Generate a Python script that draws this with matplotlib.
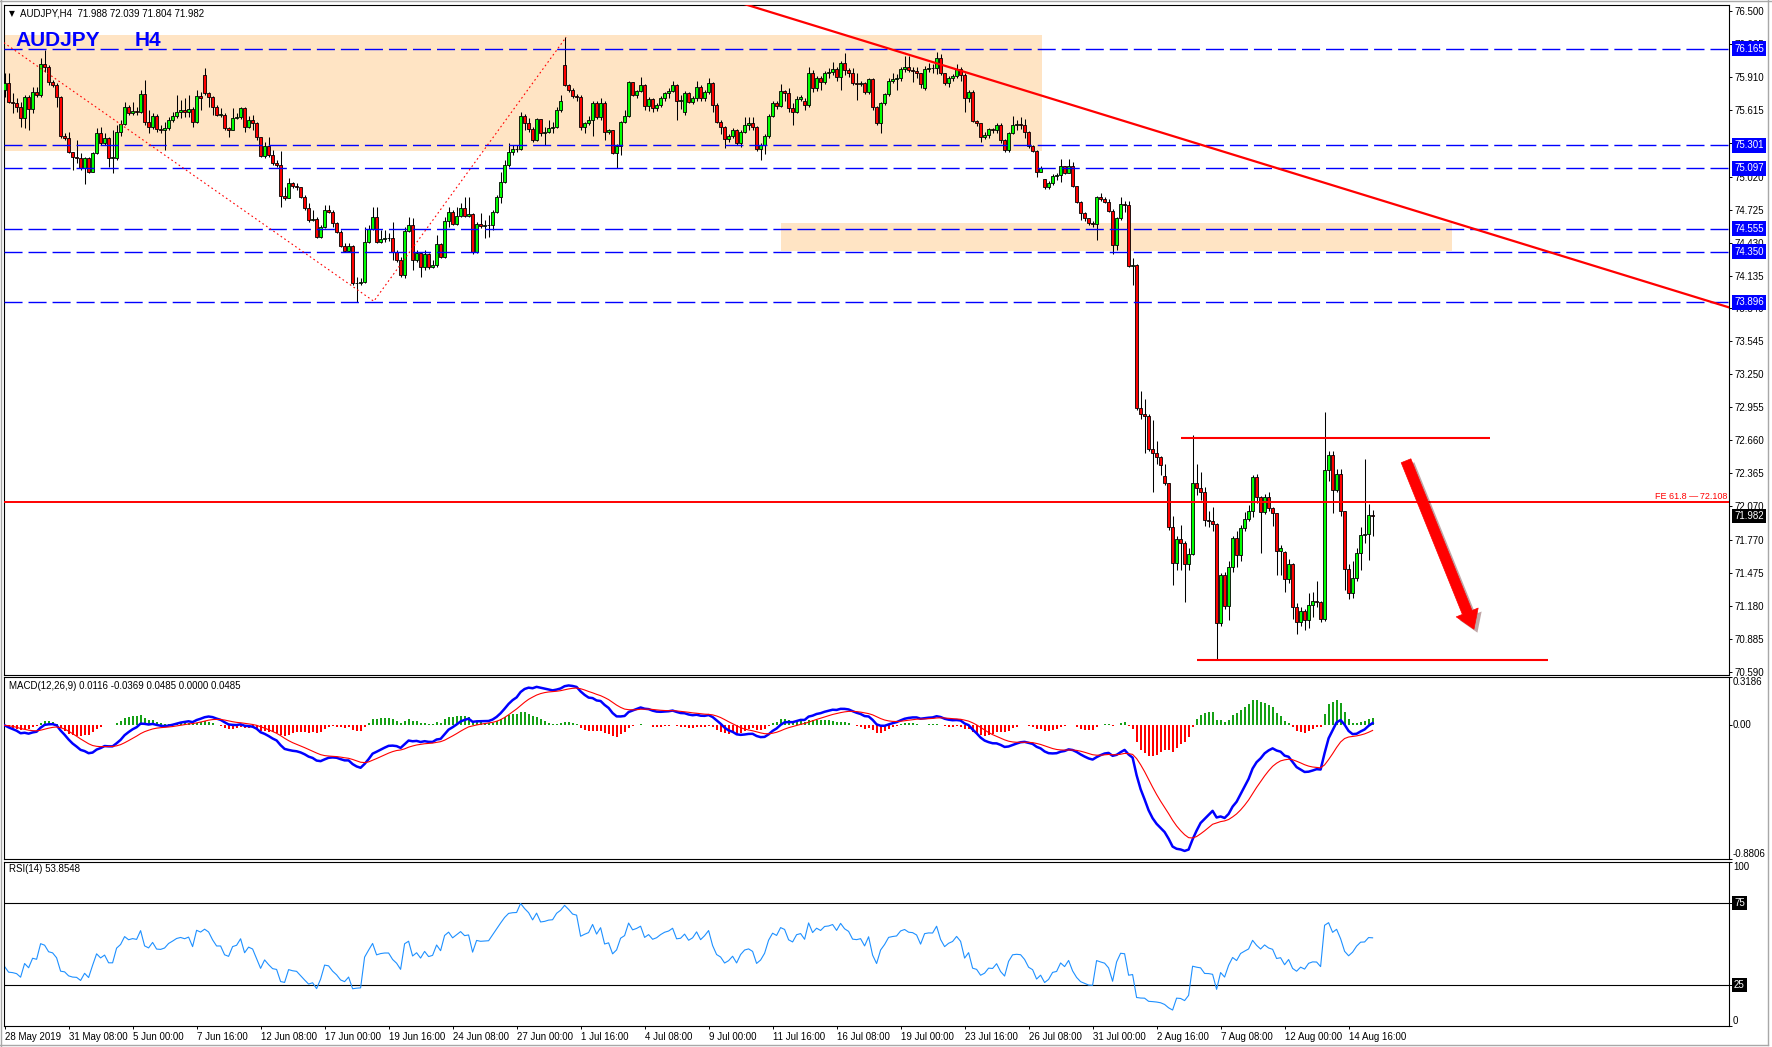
import numpy as np
import pandas as pd
import matplotlib
matplotlib.use("Agg")
import matplotlib.pyplot as plt
import matplotlib.patheffects as pe
from matplotlib.lines import Line2D

plt.rcParams['font.family'] = ['Liberation Sans', 'DejaVu Sans']

# ---- AUDJPY H4 candles (bar 0 = 28 May 2019 16:00) ----
opens = [
    75.796, 75.856, 75.691, 75.677, 75.647, 75.542, 75.736, 75.626, 75.775, 75.751,
    76.029, 75.999, 75.865, 75.841, 75.736, 75.384, 75.363, 75.238, 75.199, 75.190,
    75.095, 75.184, 75.065, 75.229, 75.408, 75.318, 75.363, 75.190, 75.190, 75.423,
    75.489, 75.641, 75.587, 75.608, 75.596, 75.757, 75.506, 75.468, 75.563, 75.444,
    75.438, 75.459, 75.527, 75.563, 75.602, 75.617, 75.602, 75.623, 75.512, 75.742,
    75.930, 75.766, 75.736, 75.647, 75.572, 75.572, 75.459, 75.438, 75.542, 75.557,
    75.632, 75.462, 75.527, 75.503, 75.372, 75.205, 75.297, 75.214, 75.139, 75.124,
    74.850, 74.826, 74.960, 74.936, 74.924, 74.835, 74.736, 74.632, 74.644, 74.483,
    74.572, 74.722, 74.707, 74.602, 74.522, 74.399, 74.355, 74.399, 74.065, 74.071,
    74.074, 74.438, 74.548, 74.662, 74.438, 74.459, 74.468, 74.468, 74.349, 74.274,
    74.140, 74.537, 74.587, 74.274, 74.334, 74.208, 74.328, 74.208, 74.229, 74.417,
    74.298, 74.623, 74.707, 74.596, 74.668, 74.742, 74.671, 74.686, 74.349, 74.596,
    74.578, 74.584, 74.590, 74.707, 74.835, 74.975, 75.124, 75.244, 75.265, 75.271,
    75.563, 75.497, 75.444, 75.348, 75.533, 75.408, 75.423, 75.453, 75.462, 75.617,
    76.020, 75.841, 75.796, 75.743, 75.731, 75.462, 75.498, 75.528, 75.683, 75.552,
    75.677, 75.417, 75.438, 75.229, 75.295, 75.513, 75.567, 75.868, 75.752, 75.787,
    75.841, 75.653, 75.713, 75.632, 75.662, 75.722, 75.767, 75.790, 75.841, 75.698,
    75.600, 75.773, 75.692, 75.728, 75.820, 75.722, 75.781, 75.862, 75.662, 75.513,
    75.468, 75.355, 75.384, 75.438, 75.319, 75.423, 75.483, 75.498, 75.462, 75.265,
    75.304, 75.385, 75.567, 75.683, 75.653, 75.790, 75.767, 75.632, 75.602, 75.713,
    75.700, 75.660, 75.946, 75.817, 75.901, 75.871, 75.946, 75.955, 75.981, 75.916,
    76.035, 75.975, 75.946, 75.856, 75.850, 75.862, 75.781, 75.892, 75.647, 75.498,
    75.677, 75.761, 75.877, 75.892, 75.901, 75.981, 76.005, 75.975, 75.970, 75.946,
    75.811, 75.981, 75.991, 75.990, 76.080, 75.946, 75.862, 75.901, 75.922, 75.981,
    75.931, 75.722, 75.781, 75.522, 75.498, 75.373, 75.394, 75.444, 75.438, 75.483,
    75.349, 75.259, 75.408, 75.483, 75.489, 75.483, 75.417, 75.295, 75.253, 75.065,
    74.997, 74.931, 74.960, 75.026, 75.035, 75.116, 75.056, 75.116, 74.937, 74.797,
    74.692, 74.647, 74.603, 74.597, 74.841, 74.817, 74.796, 74.713, 74.409, 74.647,
    74.776, 74.767, 74.220, 74.230, 72.946, 72.893, 72.880, 72.579, 72.549, 72.508,
    72.341, 72.275, 71.887, 71.559, 71.774, 71.744, 71.550, 71.642, 72.275, 72.230,
    72.200, 71.947, 71.941, 71.908, 71.027, 71.454, 71.177, 71.523, 71.783, 71.633,
    71.872, 71.953, 72.027, 72.335, 72.156, 72.021, 72.156, 72.051, 72.006, 71.672,
    71.660, 71.416, 71.550, 71.171, 71.036, 71.135, 71.051, 71.186, 71.220, 71.215,
    71.057, 72.394, 72.529, 72.215, 72.355, 72.030, 71.505, 71.290, 71.424, 71.654,
    71.812, 71.821, 71.988]
highs = [
    75.945, 75.945, 75.766, 75.721, 75.691, 75.751, 75.751, 75.826, 75.826, 76.079,
    76.154, 76.020, 75.885, 75.856, 75.740, 75.408, 75.423, 75.244, 75.348, 75.229,
    75.199, 75.199, 75.244, 75.453, 75.468, 75.408, 75.378, 75.438, 75.483, 75.527,
    75.691, 75.662, 75.691, 75.647, 75.796, 75.885, 75.617, 75.587, 75.580, 75.483,
    75.512, 75.557, 75.602, 75.751, 75.706, 75.721, 75.751, 75.647, 75.796, 75.781,
    75.990, 75.781, 75.740, 75.662, 75.632, 75.587, 75.468, 75.632, 75.587, 75.647,
    75.641, 75.563, 75.572, 75.512, 75.378, 75.333, 75.378, 75.259, 75.169, 75.253,
    74.931, 75.005, 74.975, 74.960, 74.930, 74.856, 74.781, 74.722, 74.662, 74.587,
    74.766, 74.766, 74.722, 74.610, 74.542, 74.423, 74.423, 74.405, 74.119, 74.110,
    74.572, 74.587, 74.751, 74.751, 74.542, 74.542, 74.513, 74.617, 74.360, 74.304,
    74.572, 74.656, 74.647, 74.363, 74.349, 74.363, 74.340, 74.274, 74.498, 74.423,
    74.662, 74.751, 74.722, 74.751, 74.781, 74.841, 74.841, 74.692, 74.617, 74.692,
    74.632, 74.677, 74.722, 74.856, 75.065, 75.169, 75.318, 75.303, 75.303, 75.602,
    75.580, 75.542, 75.468, 75.542, 75.540, 75.468, 75.527, 75.512, 75.647, 75.751,
    76.267, 75.850, 75.810, 75.760, 75.750, 75.510, 75.560, 75.700, 75.700, 75.720,
    75.700, 75.450, 75.440, 75.310, 75.520, 75.620, 75.880, 75.870, 75.800, 75.916,
    75.850, 75.730, 75.720, 75.680, 75.740, 75.780, 75.810, 75.880, 75.850, 75.750,
    75.790, 75.780, 75.740, 75.880, 75.840, 75.800, 75.905, 75.870, 75.680, 75.530,
    75.470, 75.400, 75.460, 75.450, 75.440, 75.550, 75.550, 75.550, 75.470, 75.320,
    75.400, 75.580, 75.700, 75.700, 75.850, 75.800, 75.810, 75.680, 75.740, 75.750,
    75.720, 76.005, 75.975, 75.920, 75.920, 75.970, 75.990, 76.050, 76.000, 76.060,
    76.125, 75.990, 75.990, 75.950, 75.880, 75.870, 75.900, 75.900, 75.650, 75.690,
    75.770, 75.900, 75.950, 75.940, 76.000, 76.101, 76.100, 76.000, 76.000, 75.950,
    76.010, 76.040, 76.030, 76.140, 76.120, 75.950, 75.920, 75.940, 76.030, 76.000,
    75.950, 75.800, 75.800, 75.530, 75.500, 75.420, 75.460, 75.460, 75.500, 75.500,
    75.360, 75.420, 75.560, 75.530, 75.550, 75.540, 75.430, 75.300, 75.260, 75.120,
    75.000, 74.980, 75.040, 75.050, 75.176, 75.120, 75.176, 75.150, 74.940, 74.800,
    74.700, 74.650, 74.620, 74.850, 74.870, 74.840, 74.820, 74.730, 74.660, 74.840,
    74.800, 74.800, 74.290, 74.240, 73.100, 73.030, 72.900, 72.840, 72.650, 72.520,
    72.448, 72.280, 71.980, 71.800, 71.900, 71.760, 71.700, 72.708, 72.450, 72.380,
    72.240, 72.030, 72.060, 71.920, 71.470, 71.480, 71.580, 71.800, 71.850, 71.900,
    72.020, 72.080, 72.350, 72.360, 72.160, 72.180, 72.200, 72.060, 72.010, 71.720,
    71.670, 71.600, 71.560, 71.200, 71.170, 71.150, 71.290, 71.300, 71.400, 71.220,
    72.916, 72.560, 72.560, 72.400, 72.400, 72.030, 71.550, 71.580, 71.700, 71.880,
    72.490, 72.090, 72.039]
lows = [
    75.736, 75.682, 75.587, 75.602, 75.468, 75.453, 75.438, 75.587, 75.736, 75.736,
    75.960, 75.841, 75.826, 75.647, 75.363, 75.348, 75.229, 75.080, 75.139, 75.080,
    74.954, 75.050, 75.060, 75.223, 75.303, 75.303, 75.110, 75.050, 75.169, 75.380,
    75.483, 75.572, 75.572, 75.572, 75.587, 75.483, 75.408, 75.444, 75.423, 75.408,
    75.259, 75.438, 75.512, 75.542, 75.542, 75.557, 75.557, 75.468, 75.497, 75.617,
    75.751, 75.647, 75.572, 75.563, 75.557, 75.438, 75.378, 75.438, 75.533, 75.533,
    75.423, 75.453, 75.438, 75.348, 75.193, 75.184, 75.199, 75.124, 75.110, 74.751,
    74.811, 74.826, 74.915, 74.901, 74.826, 74.722, 74.617, 74.620, 74.468, 74.468,
    74.557, 74.692, 74.572, 74.513, 74.393, 74.349, 74.349, 74.050, 73.901, 74.050,
    74.065, 74.430, 74.542, 74.423, 74.423, 74.438, 74.447, 74.274, 74.259, 74.125,
    74.110, 74.528, 74.184, 74.259, 74.125, 74.184, 74.190, 74.200, 74.208, 74.289,
    74.289, 74.572, 74.587, 74.587, 74.662, 74.662, 74.662, 74.328, 74.340, 74.557,
    74.468, 74.483, 74.542, 74.698, 74.787, 74.960, 75.110, 75.214, 75.244, 75.259,
    75.438, 75.423, 75.333, 75.340, 75.384, 75.303, 75.410, 75.408, 75.453, 75.602,
    75.830, 75.780, 75.720, 75.700, 75.440, 75.408, 75.480, 75.380, 75.540, 75.530,
    75.350, 75.400, 75.220, 75.100, 75.215, 75.500, 75.550, 75.740, 75.720, 75.780,
    75.620, 75.610, 75.600, 75.610, 75.640, 75.700, 75.720, 75.780, 75.530, 75.630,
    75.570, 75.680, 75.670, 75.700, 75.700, 75.700, 75.760, 75.600, 75.500, 75.400,
    75.274, 75.330, 75.370, 75.300, 75.290, 75.410, 75.440, 75.440, 75.250, 75.170,
    75.220, 75.370, 75.550, 75.630, 75.640, 75.700, 75.600, 75.480, 75.590, 75.700,
    75.620, 75.640, 75.780, 75.790, 75.800, 75.850, 75.900, 75.930, 75.880, 75.800,
    75.930, 75.910, 75.840, 75.707, 75.830, 75.760, 75.760, 75.620, 75.480, 75.414,
    75.660, 75.740, 75.860, 75.800, 75.880, 75.960, 75.960, 75.870, 75.900, 75.810,
    75.800, 75.960, 75.950, 75.940, 75.930, 75.840, 75.820, 75.880, 75.900, 75.880,
    75.600, 75.690, 75.510, 75.470, 75.330, 75.360, 75.370, 75.410, 75.410, 75.320,
    75.240, 75.240, 75.400, 75.440, 75.450, 75.370, 75.280, 75.240, 75.020, 75.060,
    74.910, 74.910, 74.950, 74.990, 74.970, 75.040, 75.050, 74.930, 74.780, 74.630,
    74.620, 74.590, 74.570, 74.453, 74.800, 74.780, 74.700, 74.328, 74.360, 74.630,
    74.700, 74.210, 74.050, 72.931, 72.850, 72.550, 72.560, 72.200, 72.450, 72.350,
    72.260, 71.860, 71.365, 71.500, 71.500, 71.215, 71.500, 71.630, 72.170, 72.130,
    71.890, 71.880, 71.850, 70.706, 71.000, 71.150, 71.050, 71.480, 71.530, 71.580,
    71.850, 71.940, 71.970, 72.100, 71.650, 72.000, 72.030, 71.890, 71.450, 71.450,
    71.300, 71.380, 71.060, 70.930, 71.000, 70.960, 70.980, 71.080, 71.170, 71.030,
    71.040, 72.300, 72.010, 72.200, 71.980, 71.320, 71.240, 71.250, 71.400, 71.500,
    71.740, 71.590, 71.804]
closes = [
    75.856, 75.691, 75.677, 75.647, 75.542, 75.736, 75.626, 75.775, 75.751, 76.029,
    75.999, 75.865, 75.841, 75.736, 75.384, 75.363, 75.238, 75.199, 75.190, 75.095,
    75.184, 75.065, 75.229, 75.408, 75.318, 75.363, 75.190, 75.190, 75.423, 75.489,
    75.641, 75.587, 75.608, 75.596, 75.757, 75.506, 75.468, 75.563, 75.444, 75.438,
    75.459, 75.527, 75.563, 75.602, 75.617, 75.602, 75.623, 75.512, 75.742, 75.721,
    75.766, 75.736, 75.647, 75.572, 75.572, 75.459, 75.438, 75.542, 75.557, 75.632,
    75.462, 75.527, 75.503, 75.372, 75.205, 75.297, 75.214, 75.139, 75.124, 74.850,
    74.826, 74.960, 74.936, 74.924, 74.835, 74.736, 74.632, 74.644, 74.483, 74.572,
    74.722, 74.707, 74.602, 74.522, 74.399, 74.355, 74.399, 74.065, 74.071, 74.074,
    74.438, 74.548, 74.662, 74.438, 74.459, 74.468, 74.468, 74.349, 74.274, 74.140,
    74.537, 74.587, 74.274, 74.334, 74.208, 74.328, 74.208, 74.229, 74.417, 74.298,
    74.623, 74.707, 74.596, 74.668, 74.742, 74.671, 74.686, 74.349, 74.596, 74.578,
    74.584, 74.590, 74.707, 74.835, 74.975, 75.124, 75.244, 75.265, 75.271, 75.563,
    75.497, 75.444, 75.348, 75.533, 75.408, 75.423, 75.453, 75.462, 75.617, 75.697,
    75.841, 75.796, 75.743, 75.731, 75.462, 75.498, 75.528, 75.683, 75.552, 75.677,
    75.417, 75.438, 75.229, 75.295, 75.513, 75.567, 75.868, 75.752, 75.787, 75.841,
    75.653, 75.713, 75.632, 75.662, 75.722, 75.767, 75.790, 75.841, 75.698, 75.707,
    75.773, 75.692, 75.728, 75.820, 75.722, 75.781, 75.862, 75.662, 75.513, 75.468,
    75.355, 75.384, 75.438, 75.319, 75.423, 75.483, 75.498, 75.462, 75.265, 75.304,
    75.385, 75.567, 75.683, 75.653, 75.790, 75.767, 75.632, 75.602, 75.713, 75.731,
    75.660, 75.946, 75.817, 75.901, 75.871, 75.946, 75.955, 75.981, 75.916, 76.035,
    75.975, 75.946, 75.856, 75.850, 75.862, 75.781, 75.892, 75.647, 75.498, 75.677,
    75.761, 75.877, 75.892, 75.901, 75.981, 76.005, 75.975, 75.970, 75.946, 75.847,
    75.981, 75.991, 75.990, 76.080, 75.946, 75.862, 75.901, 75.922, 75.981, 75.931,
    75.722, 75.781, 75.522, 75.498, 75.373, 75.394, 75.444, 75.438, 75.483, 75.349,
    75.259, 75.408, 75.483, 75.489, 75.483, 75.417, 75.295, 75.253, 75.065, 75.101,
    74.931, 74.960, 75.026, 75.035, 75.116, 75.056, 75.116, 74.937, 74.797, 74.692,
    74.647, 74.603, 74.597, 74.841, 74.817, 74.796, 74.713, 74.409, 74.647, 74.776,
    74.767, 74.220, 74.230, 72.946, 72.893, 72.880, 72.579, 72.549, 72.508, 72.439,
    72.275, 71.887, 71.559, 71.774, 71.744, 71.550, 71.642, 72.275, 72.230, 72.200,
    71.947, 71.941, 71.908, 71.027, 71.454, 71.177, 71.523, 71.783, 71.633, 71.872,
    71.953, 72.027, 72.335, 72.156, 72.021, 72.156, 72.051, 72.006, 71.672, 71.693,
    71.416, 71.550, 71.171, 71.036, 71.135, 71.051, 71.186, 71.220, 71.215, 71.057,
    72.394, 72.529, 72.215, 72.355, 72.030, 71.505, 71.290, 71.424, 71.654, 71.812,
    71.821, 71.991, 71.982]

date_labels = ["28 May 2019", "31 May 08:00", "5 Jun 00:00", "7 Jun 16:00", "12 Jun 08:00",
               "17 Jun 00:00", "19 Jun 16:00", "24 Jun 08:00", "27 Jun 00:00", "1 Jul 16:00",
               "4 Jul 08:00", "9 Jul 00:00", "11 Jul 16:00", "16 Jul 08:00", "19 Jul 00:00",
               "23 Jul 16:00", "26 Jul 08:00", "31 Jul 00:00", "2 Aug 16:00", "7 Aug 08:00",
               "12 Aug 00:00", "14 Aug 16:00"]
date_bars = list(range(0, 337, 16))

price_ticks = [76.500, 76.205, 75.910, 75.615, 75.320, 75.020, 74.725, 74.430, 74.135, 73.840,
               73.545, 73.250, 72.955, 72.660, 72.365, 72.070, 71.770, 71.475, 71.180, 70.885, 70.590]

# drawn objects
level_lines = [76.165, 75.301, 75.097, 74.555, 74.350, 73.896]
zone_bars = [(-2, 259.3), (194.2, 361.9)]
zone_prices = [(75.253, 76.290), (74.357, 74.605)]
fe_level = 72.108
trend_bars = [180, 432]
trend_prices = [76.620, 73.840]
range_top = (72.684, 294.1, 371.4)
range_bottom = (70.693, 298.1, 385.9)
zigzag_bars = [-0.2, 92.3, 140.4]
zigzag_prices = [76.220, 73.905, 76.270]
arrow_bars = [350.1, 367.6]
arrow_prices = [72.500, 70.946]

o = np.array(opens)
h = np.maximum(np.array(highs), np.maximum(o, closes))
l = np.minimum(np.array(lows), np.minimum(o, closes))
c = np.array(closes)
n = len(c)
x = np.arange(n)

# indicators
cs = pd.Series(c)
macd = cs.ewm(span=12, adjust=False).mean() - cs.ewm(span=26, adjust=False).mean()
signal = macd.ewm(span=9, adjust=False).mean()
hist = (macd - signal).values

d = np.diff(c, prepend=c[0])
g = np.clip(d, 0, None)
ls = np.clip(-d, 0, None)
ag, al = g[1:15].mean(), ls[1:15].mean()
rsi = np.empty(n)
for i in range(n):
    if i > 0:
        ag = (ag * 13 + g[i]) / 14
        al = (al * 13 + ls[i]) / 14
    rsi[i] = 100 - 100 / (1 + ag / al)

# ---- layout (pixels of a 1772x1047 canvas) ----
W, H = 1772, 1047
fig = plt.figure(figsize=(W / 100, H / 100), dpi=100)


def rect(left, top, right, bottom):
    return [left / W, 1 - bottom / H, (right - left) / W, (bottom - top) / H]


ax = fig.add_axes(rect(3.5, 5, 1729, 675))
axm = fig.add_axes(rect(3.5, 677, 1729, 859))
axr = fig.add_axes(rect(3.5, 862, 1729, 1026))
for a in (ax, axm, axr):
    a.set_xlim((3.5 - 4.6) / 4.0, (1729 - 4.6) / 4.0)
    for s in a.spines.values():
        s.set_linewidth(0.8)
    a.yaxis.tick_right()
    a.tick_params(axis='y', direction='out', length=2.2, width=0.7, pad=1.8, labelsize=7,
                  right=True, left=False)
for a in (ax, axm):
    a.tick_params(axis='x', bottom=False, labelbottom=False)


def side_label(axis, y, s, va='center', box=None, dx=5):
    kw = dict(xy=(1, y), xycoords=('axes fraction', 'data'), xytext=(dx, 0),
              textcoords='offset pixels', ha='left', va=va, fontsize=7,
              annotation_clip=False, zorder=20)
    if box:
        kw.update(color='white', bbox=dict(boxstyle='square,pad=0.25', fc=box, ec='none'))
    axis.annotate(s, **kw)


# ---- main price panel ----
ax.set_ylim(70.559, 76.557)
ax.set_yticks(price_ticks)
ax.set_yticklabels([f"{t:.3f}" for t in price_ticks])

for (b0, b1), (p0, p1) in zip(zone_bars, zone_prices):
    ax.fill_between([b0, b1], p0, p1, color='bisque', lw=0, zorder=0)

ax.vlines(x, l, h, color='black', lw=0.75, zorder=3)
up = c >= o
body = np.maximum(np.abs(c - o), 0.006)
bot = np.minimum(o, c)
ax.bar(x[up], body[up], bottom=bot[up], width=0.72, color='#00FF00', edgecolor='black',
       lw=0.6, zorder=4)
ax.bar(x[~up], body[~up], bottom=bot[~up], width=0.72, color='#FF0000', edgecolor='black',
       lw=0.6, zorder=4)

for p in level_lines:
    ax.axhline(p, color='#0000FF', lw=1.0, dashes=(13, 4.3), zorder=5)
    side_label(ax, p, f"{p:.3f}", box='#0000FF')
side_label(ax, c[-1], f"{c[-1]:.3f}", box='black')

ax.plot(zigzag_bars, zigzag_prices, color='red', lw=0.8, ls=(0, (1.5, 2.5)), zorder=5)
ax.axhline(fe_level, color='red', lw=1.4, zorder=6)
ax.annotate("FE 61.8 \u2014\u200972.108", xy=(1, fe_level), xycoords=('axes fraction', 'data'),
            xytext=(-2, 1), textcoords='offset pixels', ha='right', va='bottom',
            color='red', fontsize=6.5, zorder=7)
ax.plot(trend_bars, trend_prices, color='red', lw=1.6, zorder=6)
ax.hlines(range_top[0], range_top[1], range_top[2], color='red', lw=1.5, zorder=6)
ax.hlines(range_bottom[0], range_bottom[1], range_bottom[2], color='red', lw=1.5, zorder=6)
ax.annotate('', xy=(arrow_bars[1], arrow_prices[1]), xytext=(arrow_bars[0], arrow_prices[0]),
            arrowprops=dict(arrowstyle='simple,head_length=1.3,head_width=1.7,tail_width=0.75',
                            fc='red', ec='red', lw=0.5,
                            path_effects=[pe.SimplePatchShadow(offset=(2.5, -2.5), alpha=0.35),
                                          pe.Normal()]),
            zorder=8)

fig.text(9 / W, 1 - 16 / H, "\u25bc", fontsize=5.5, va='baseline', family='DejaVu Sans')
fig.text(20 / W, 1 - 16 / H, "AUDJPY,H4  71.988 72.039 71.804 71.982", fontsize=7,
         va='baseline')
fig.text(15.7 / W, 1 - 45.7 / H, "AUDJPY", fontsize=15, weight='bold', color='#0000FF',
         va='baseline')
fig.text(135 / W, 1 - 45.7 / H, "H4", fontsize=15, weight='bold', color='#0000FF',
         va='baseline')

# ---- MACD panel ----
axm.set_ylim(-0.8806, 0.3186)
axm.set_yticks([0.3186, 0.0, -0.8806])
axm.tick_params(axis='y', labelright=False)
axm.bar(x[hist >= 0], hist[hist >= 0], width=0.5, color='#16A016', lw=0, zorder=2)
axm.bar(x[hist < 0], hist[hist < 0], width=0.5, color='#FF0000', lw=0, zorder=2)
axm.plot(x, macd.values, color='#0000FF', lw=1.8, zorder=3)
axm.plot(x, signal.values, color='#FF0000', lw=0.8, zorder=4)
side_label(axm, 0.3186, "0.3186", va='top', dx=4)
side_label(axm, 0.0, "0.00", dx=4)
side_label(axm, -0.8806, "-0.8806", va='bottom', dx=4)
fig.text(9 / W, 1 - 688.7 / H, "MACD(12,26,9) 0.0116 -0.0369 0.0485 0.0000 0.0485",
         fontsize=7, va='baseline')

# ---- RSI panel ----
axr.set_ylim(0, 100)
axr.set_yticks([0, 25, 75, 100])
axr.tick_params(axis='y', labelright=False)
axr.axhline(75, color='black', lw=0.8)
axr.axhline(25, color='black', lw=0.8)
axr.plot(x, rsi, color='#1E90FF', lw=0.8)
side_label(axr, 100, "100", va='top', dx=4)
side_label(axr, 75, "75", box='black', dx=5)
side_label(axr, 25, "25", box='black', dx=5)
side_label(axr, 0, "0", va='bottom', dx=4)
fig.text(9 / W, 1 - 872.3 / H, "RSI(14) 53.8548", fontsize=7, va='baseline')

axr.set_xticks(date_bars)
axr.set_xticklabels(date_labels)
axr.tick_params(axis='x', direction='out', length=2.5, width=0.7, pad=1.5, labelsize=7)
plt.setp(axr.get_xticklabels(), ha='left')

# window frame
for xs, ys in [((1, 1), (0, H)), ((1768, 1768), (0, 1045)), ((0, 1768), (1045, 1045)),
               ((0, W), (0.5, 0.5))]:
    fig.add_artist(Line2D([v / W for v in xs], [1 - v / H for v in ys],
                          transform=fig.transFigure, color='#A8A8A8', lw=1))

fig.savefig("out.png", dpi=100)
